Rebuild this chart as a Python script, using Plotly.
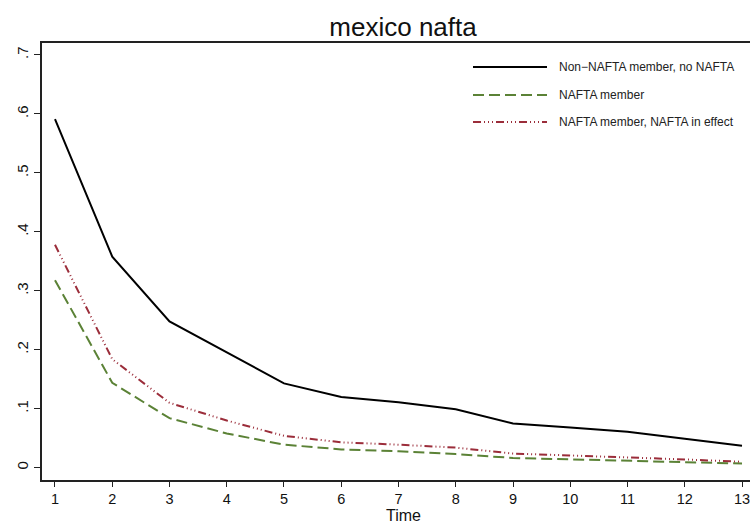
import plotly.graph_objects as go

time = list(range(1, 14))
series_names = ["Non\u2212NAFTA member, no NAFTA", "NAFTA member", "NAFTA member, NAFTA in effect"]
non_nafta = [0.591, 0.358, 0.248, 0.195, 0.143, 0.120, 0.111, 0.099, 0.075, 0.068, 0.061, 0.049, 0.037]
nafta_member = [0.318, 0.144, 0.084, 0.058, 0.039, 0.031, 0.028, 0.023, 0.0165, 0.014, 0.012, 0.009, 0.007]
nafta_effect = [0.378, 0.184, 0.110, 0.080, 0.054, 0.043, 0.039, 0.034, 0.024, 0.021, 0.018, 0.014, 0.010]
y_ticks = [0, 0.1, 0.2, 0.3, 0.4, 0.5, 0.6, 0.7]
y_tick_labels = ["0", ".1", ".2", ".3", ".4", ".5", ".6", ".7"]

colors = ["#000000", "#5b8236", "#9b2d3a"]
dashes = ["solid", "11px,5px", "8px,3px,1px,3px,1px,3px,1px,3px"]
values = [non_nafta, nafta_member, nafta_effect]

FONT = "Liberation Sans, Arial, sans-serif"

fig = go.Figure()
for name, vals, c, d in zip(series_names, values, colors, dashes):
    fig.add_trace(go.Scatter(x=time, y=vals, mode="lines", name=name,
                             line=dict(color=c, width=2, dash=d), showlegend=False))

# plot area: left 42, right 750, top 43, bottom 480 (px)
L, R, T, B = 42, 750, 43, 480
W, H = R - L, B - T
def px(xp):
    return (xp - L) / W
def py(yp):
    return (B - yp) / H

# legend drawn inside plot area (top right)
leg_y = [67, 95, 122]
for name, c, d, yy in zip(series_names, colors, dashes, leg_y):
    fig.add_shape(type="line", xref="paper", yref="paper",
                  x0=px(473), x1=px(547), y0=py(yy), y1=py(yy),
                  line=dict(color=c, width=2, dash=d))
    fig.add_annotation(xref="paper", yref="paper", x=px(557), y=py(yy),
                       text=name, showarrow=False, xanchor="left", yanchor="middle",
                       font=dict(family=FONT, size=12, color="#222"))

# x-axis title
fig.add_annotation(xref="paper", yref="paper", x=px(403), y=py(515),
                   text="Time", showarrow=False, xanchor="center", yanchor="middle",
                   font=dict(family=FONT, size=16, color="#111"))

fig.update_layout(
    width=750, height=523,
    margin=dict(l=L, r=0, t=T, b=523 - B, autoexpand=False),
    plot_bgcolor="white", paper_bgcolor="white",
    title=dict(text="mexico nafta", x=403 / 750, xref="container", xanchor="center",
               y=1 - 27 / 523, yref="container", yanchor="middle",
               font=dict(family=FONT, size=26, color="#111")),
    font=dict(family=FONT, color="#111"),
)
fig.update_xaxes(
    range=[1 - 13 / 57.3, 13 + 8 / 57.3],
    tickmode="array", tickvals=time, ticktext=[str(t) for t in time],
    ticks="outside", ticklen=5, tickwidth=1.3, tickcolor="#222",
    showline=True, linecolor="#222", linewidth=2, mirror=True,
    showgrid=False, zeroline=False, ticklabeloverflow="allow",
    tickfont=dict(family=FONT, size=14.5, color="#111"),
)
fig.update_yaxes(
    range=[-0.0209, 0.7203],
    tickmode="array", tickvals=y_ticks, ticktext=y_tick_labels, tickangle=-90,
    ticks="outside", ticklen=6, tickwidth=1.3, tickcolor="#222",
    showline=True, linecolor="#222", linewidth=2, mirror=False,
    showgrid=False, zeroline=False,
    tickfont=dict(family=FONT, size=15, color="#111"),
)

fig.write_html("out.html", config={"displayModeBar": False},
               post_script="document.body.style.margin='0px';document.body.style.overflow='hidden';")
